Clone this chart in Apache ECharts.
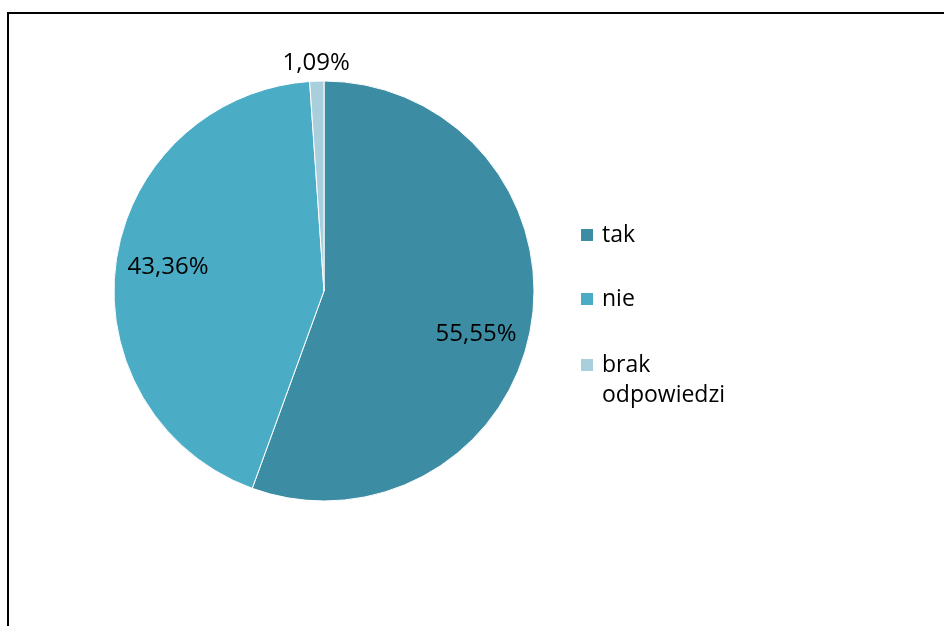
<!DOCTYPE html>
<html>
<head>
<meta charset="utf-8">
<script src="https://cdn.jsdelivr.net/npm/echarts@6/dist/echarts.min.js"></script>
<style>
  html, body { margin: 0; padding: 0; background: #fff; }
  #root { width: 944px; height: 626px; }
</style>
</head>
<body>
<div id="root"></div>
<script>
  // odpowiedzi i udzialy procentowe
  var categories = ['tak', 'nie', 'brak odpowiedzi']
  var shares = [55.55, 43.36, 1.09]
  var colors = ['#3c8da4', '#4aacc5', '#a9cfdd']

  var fontFamily = '"Open Sans", "Liberation Sans", sans-serif'
  var pct = function (p) { return p.value.toFixed(2).replace('.', ',') + '%' }

  var pieData = categories.map(function (name, i) {
    return { name: name, value: shares[i], itemStyle: { color: colors[i] } }
  })

  // przezroczyste kopie tylko do ustawienia etykiet
  var innerLabels = categories.map(function (name, i) {
    return {
      name: name,
      value: shares[i],
      label: { show: i < 2, offset: i === 0 ? [-6, 15] : [3, -1] }
    }
  })
  var outerLabels = categories.map(function (name, i) {
    return { name: name, value: shares[i], label: { show: i === 2 } }
  })

  var labelStyle = {
    position: 'inside',
    formatter: pct,
    color: '#000',
    fontSize: 24,
    fontFamily: fontFamily
  }

  var legendText = {
    color: '#000',
    fontSize: 23,
    lineHeight: 30,
    fontFamily: fontFamily,
    padding: [0, 0, 0, 3]
  }

  var chart = echarts.init(document.getElementById('root'))

  var option = {
    backgroundColor: '#fff',
    animation: false,
    graphic: [{
      type: 'rect',
      shape: { x: 8, y: 13, width: 1000, height: 1000 },
      style: { fill: 'none', stroke: '#000', lineWidth: 2 },
      silent: true
    }],
    legend: [
      {
        orient: 'vertical',
        left: 579,
        top: 220,
        padding: 0,
        itemWidth: 14,
        itemHeight: 14,
        itemGap: 34,
        icon: 'rect',
        selectedMode: false,
        data: categories.slice(0, 2),
        textStyle: legendText
      },
      {
        // druga pozycja zawija sie na dwie linie, pierwsza linia przy ikonie
        orient: 'vertical',
        left: 579,
        top: 320,
        padding: 0,
        itemWidth: 14,
        itemHeight: 14,
        icon: 'rect',
        selectedMode: false,
        data: categories.slice(2),
        formatter: function (name) { return '\n' + name.replace(' ', '\n') },
        textStyle: legendText
      }
    ],
    series: [
      {
        type: 'pie',
        center: [324, 291],
        radius: 210,
        startAngle: 90,
        clockwise: true,
        silent: true,
        label: { show: false },
        labelLine: { show: false },
        itemStyle: { borderColor: '#fff', borderWidth: 1 },
        data: pieData
      },
      {
        type: 'pie',
        center: [324, 291],
        radius: [105, 210],
        startAngle: 90,
        silent: true,
        itemStyle: { color: 'rgba(0,0,0,0)', borderWidth: 0 },
        label: labelStyle,
        labelLine: { show: false },
        data: innerLabels
      },
      {
        type: 'pie',
        center: [324, 291],
        radius: [210, 240],
        startAngle: 90,
        silent: true,
        itemStyle: { color: 'rgba(0,0,0,0)', borderWidth: 0 },
        label: labelStyle,
        labelLine: { show: false },
        data: outerLabels
      }
    ]
  }

  chart.setOption(option)
</script>
</body>
</html>
